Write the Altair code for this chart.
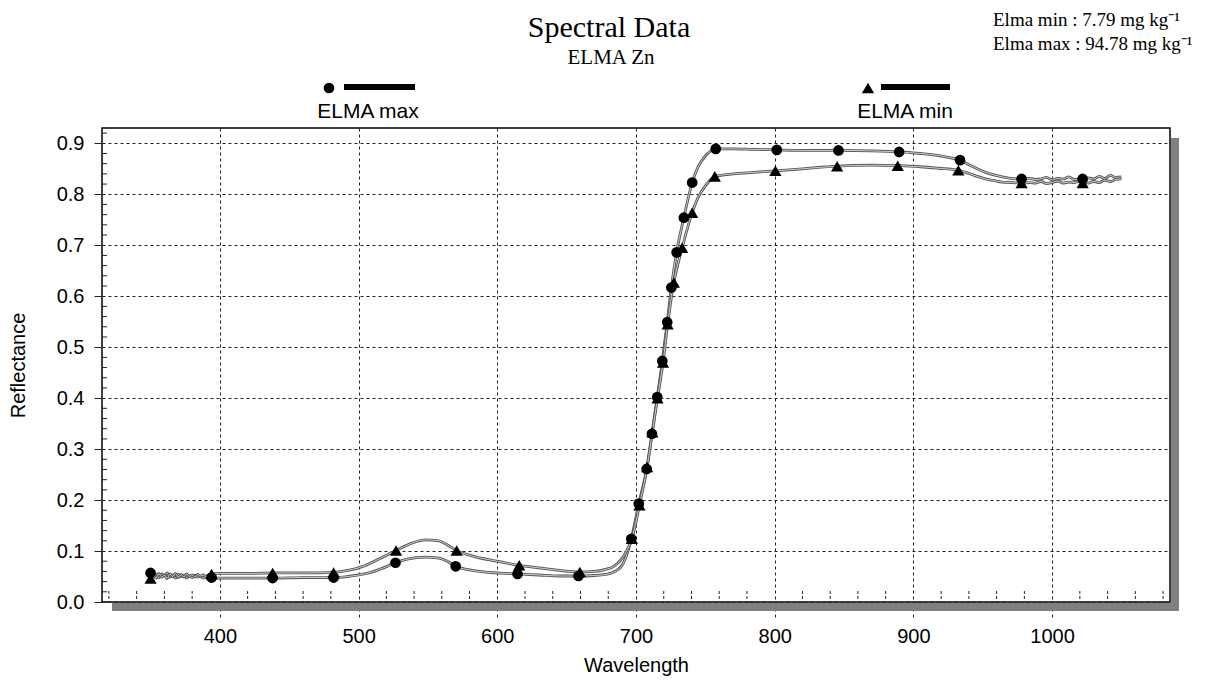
import altair as alt
import pandas as pd

# ---------------- data ----------------
noise_wl = [350, 352, 354, 356, 358, 360, 362, 364, 366, 368, 370, 372, 374, 376, 378,
            380, 382, 384, 386, 388, 390, 392, 394]

# ELMA max (circles)
max_wl = noise_wl + [400, 420, 440, 460, 482, 492, 500, 510, 518, 526.6,
                     535, 548, 558, 564, 570, 580, 590, 600, 614.6, 630,
                     645, 658.5, 670, 680, 686, 690, 693, 696.6, 702, 707.7,
                     711.5, 715.3, 719, 722.5, 725.5, 729.3, 734.5, 740.5, 745, 750,
                     757.5, 770, 785, 801.5, 820, 846, 870, 889.7, 905, 918,
                     926, 933.6, 940, 946, 952, 958, 964, 970, 978, 984,
                     988, 992, 996, 1000, 1004, 1008, 1012, 1016, 1022, 1026,
                     1030, 1034, 1038, 1042, 1046, 1050]
max_refl = [.057, .050, .054, .048, .055, .051, .057, .049, .053, .047, .054, .050,
            .052, .047, .051, .048, .052, .049, .050, .047, .049, .048, .048,
            .047, .047, .047, .048, .048, .050, .053, .059, .067, .077,
            .084, .088, .086, .080, .070, .063, .059, .057, .055, .053,
            .051, .051, .052, .055, .062, .072, .090, .124, .193, .261,
            .330, .402, .473, .549, .617, .686, .754, .823, .855, .875,
            .889, .889, .888, .887, .886, .886, .885, .883, .880, .876,
            .872, .867, .858, .850, .843, .838, .834, .831, .830, .831,
            .829, .830, .833, .828, .831, .830, .834, .829, .830, .832,
            .830, .835, .831, .837, .833, .834]

# ELMA min (triangles)
min_wl = noise_wl + [400, 420, 440, 460, 482, 492, 500, 510, 518, 527,
                     538, 548, 558, 564, 570.7, 585, 600, 615.8, 630, 645,
                     659.5, 670, 678, 684, 689, 693, 697, 702.5, 708, 711.8,
                     715.5, 719.5, 722.8, 727.3, 733.3, 740.5, 745, 750, 756.8, 770,
                     785, 800.5, 820, 845, 870, 888.7, 905, 918, 932.4, 940,
                     946, 952, 958, 964, 970, 978, 984, 988, 992, 996,
                     1000, 1004, 1008, 1012, 1016, 1022, 1026, 1030, 1034, 1038,
                     1042, 1046, 1050]
min_refl = [.046, .052, .047, .056, .049, .053, .046, .055, .050, .056, .048, .054,
            .049, .055, .050, .053, .049, .054, .051, .053, .050, .054, .055,
            .056, .056, .057, .057, .058, .062, .067, .078, .089, .101,
            .115, .122, .120, .112, .101, .088, .080, .072, .067, .062,
            .059, .060, .064, .070, .082, .099, .124, .190, .265, .333,
            .400, .470, .545, .627, .695, .764, .795, .816, .835, .840,
            .843, .846, .850, .855, .857, .856, .854, .851, .847, .841,
            .835, .830, .827, .824, .823, .822, .823, .822, .825, .821,
            .823, .826, .822, .824, .823, .827, .822, .825, .823, .828,
            .825, .829, .830]

max_mark_wl = [350, 394, 438, 482, 526.6, 570, 614.6, 658.5, 696.6, 702, 707.7, 711.5,
               715.3, 719, 722.5, 725.5, 729.3, 734.5, 740.5, 757.5, 801.5, 846, 889.7,
               933.6, 978, 1022]
max_mark_refl = [.057, .048, .047, .048, .077, .070, .055, .051, .124, .193, .261, .330,
                 .402, .473, .549, .617, .686, .754, .823, .889, .887, .886, .883,
                 .867, .830, .830]
min_mark_wl = [350, 394, 438, 482, 527, 570.7, 615.8, 659.5, 697, 702.5, 708, 711.8,
               715.5, 719.5, 722.8, 727.3, 733.3, 740.5, 756.8, 800.5, 845, 888.7,
               932.4, 978, 1022]
min_mark_refl = [.046, .055, .057, .058, .101, .101, .072, .059, .124, .190, .265, .333,
                 .400, .470, .545, .627, .695, .764, .835, .846, .855, .856,
                 .847, .822, .822]

x_major = [400, 500, 600, 700, 800, 900, 1000]
y_major = [0.0, 0.1, 0.2, 0.3, 0.4, 0.5, 0.6, 0.7, 0.8, 0.9]
x_minor = [320, 340, 360, 380, 420, 440, 460, 480, 520, 540, 560, 580, 620, 640, 660, 680,
           720, 740, 760, 780, 820, 840, 860, 880, 920, 940, 960, 980, 1020, 1040, 1060, 1080]
y_minor = [0.02, 0.04, 0.06, 0.08, 0.12, 0.14, 0.16, 0.18, 0.22, 0.24, 0.26, 0.28,
           0.32, 0.34, 0.36, 0.38, 0.42, 0.44, 0.46, 0.48, 0.52, 0.54, 0.56, 0.58,
           0.62, 0.64, 0.66, 0.68, 0.72, 0.74, 0.76, 0.78, 0.82, 0.84, 0.86, 0.88, 0.92]

title_text = "Spectral Data"
subtitle_text = "ELMA Zn"
note_lines = ["Elma min  : 7.79  mg kg\u207b\u00b9", "Elma max : 94.78 mg kg\u207b\u00b9"]
legend_labels = ["ELMA max", "ELMA min"]

# ---------------- chart ----------------
W, H = 1068, 474
SANS = "Liberation Sans"
SERIF = "Liberation Serif"

xs = alt.Scale(domain=[315, 1085], nice=False, zero=False)
ys = alt.Scale(domain=[0, 0.93], nice=False, zero=False)

df_max = pd.DataFrame({"wl": max_wl, "refl": max_refl})
df_min = pd.DataFrame({"wl": min_wl, "refl": min_refl})
dm_max = pd.DataFrame({"wl": max_mark_wl, "refl": max_mark_refl})
dm_min = pd.DataFrame({"wl": min_mark_wl, "refl": min_mark_refl})
one = pd.DataFrame({"k": [0]})

x_axis = alt.Axis(values=x_major, format="d", grid=True, gridColor="#222", gridDash=[3, 3],
                  gridWidth=1, domain=False, tickSize=18, tickColor="#222", tickDash=[3, 3],
                  tickWidth=1, labelFont=SANS, labelFontSize=20, labelColor="black",
                  labelPadding=6, title="Wavelength", titleFont=SANS, titleFontSize=20,
                  titleFontWeight="normal", titleColor="black", titlePadding=9)
y_axis = alt.Axis(values=y_major, format=".1f", grid=True, gridColor="#222", gridDash=[3, 3],
                  gridWidth=1, domain=False, tickSize=8, tickColor="#222", tickWidth=1,
                  labelFont=SANS, labelFontSize=20, labelColor="black", labelPadding=10,
                  title="Reflectance", titleFont=SANS, titleFontSize=20,
                  titleFontWeight="normal", titleColor="black", titlePadding=28)

base_x = alt.X("wl:Q", scale=xs, axis=x_axis)
base_y = alt.Y("refl:Q", scale=ys, axis=y_axis)


def curve(df):
    outer = alt.Chart(df).mark_line(color="#555", strokeWidth=2.8, interpolate="monotone").encode(
        x=alt.X("wl:Q", scale=xs), y=alt.Y("refl:Q", scale=ys))
    inner = alt.Chart(df).mark_line(color="#eeeeee", strokeWidth=0.8, interpolate="monotone").encode(
        x=alt.X("wl:Q", scale=xs), y=alt.Y("refl:Q", scale=ys))
    return outer + inner


axes_layer = alt.Chart(df_max).mark_line(opacity=0).encode(x=base_x, y=base_y)

shadow_r = alt.Chart(one).mark_rect(color="#808080").encode(
    x=alt.value(W + 1), x2=alt.value(W + 9), y=alt.value(10), y2=alt.value(H + 9))
shadow_b = alt.Chart(one).mark_rect(color="#808080").encode(
    x=alt.value(10), x2=alt.value(W + 9), y=alt.value(H + 1), y2=alt.value(H + 9))

xminor = alt.Chart(pd.DataFrame({"wl": x_minor})).mark_rule(
    color="#222", strokeDash=[3, 2], strokeWidth=1).encode(
    x=alt.X("wl:Q", scale=xs), y=alt.value(H - 11), y2=alt.value(H))
yminor = alt.Chart(pd.DataFrame({"refl": y_minor})).mark_rule(
    color="#222", strokeWidth=1).encode(
    y=alt.Y("refl:Q", scale=ys), x=alt.value(0), x2=alt.value(5))

pts_max = alt.Chart(dm_max).mark_point(shape="circle", filled=True, size=115, color="black",
                                       opacity=1).encode(
    x=alt.X("wl:Q", scale=xs), y=alt.Y("refl:Q", scale=ys))
pts_min = alt.Chart(dm_min).mark_point(shape="triangle-up", filled=True, size=150,
                                       color="black", opacity=1).encode(
    x=alt.X("wl:Q", scale=xs), y=alt.Y("refl:Q", scale=ys))


def txt(s, x, y, font, size, align="center"):
    return alt.Chart(one).mark_text(text=s, font=font, fontSize=size, align=align,
                                    baseline="alphabetic", color="black").encode(
        x=alt.value(x), y=alt.value(y))


title_l = txt(title_text, 507, -91, SERIF, 30)
sub_l = txt(subtitle_text, 509, -64, SERIF, 21)
note1 = txt(note_lines[0], 891, -102, SERIF, 19, "left")
note2 = txt(note_lines[1], 891, -78, SERIF, 19, "left")

leg_c = alt.Chart(one).mark_point(shape="circle", filled=True, size=115, color="black",
                                  opacity=1).encode(x=alt.value(227), y=alt.value(-40))
leg_cb = alt.Chart(one).mark_rule(strokeWidth=6, color="black").encode(
    x=alt.value(242), x2=alt.value(313), y=alt.value(-41))
leg_ct = txt(legend_labels[0], 266, -10, SANS, 21)
leg_t = alt.Chart(one).mark_point(shape="triangle-up", filled=True, size=150, color="black",
                                  opacity=1).encode(x=alt.value(766), y=alt.value(-40))
leg_tb = alt.Chart(one).mark_rule(strokeWidth=6, color="black").encode(
    x=alt.value(779), x2=alt.value(848), y=alt.value(-41))
leg_tt = txt(legend_labels[1], 803, -10, SANS, 21)

chart = alt.layer(
    axes_layer, shadow_r, shadow_b, xminor, yminor,
    curve(df_max), curve(df_min), pts_max, pts_min,
    title_l, sub_l, note1, note2,
    leg_c, leg_cb, leg_ct, leg_t, leg_tb, leg_tt,
).properties(
    width=W, height=H,
    autosize=alt.AutoSizeParams(type="none"),
    padding={"left": 94, "top": 120, "right": 36, "bottom": 76},
    background="white",
).configure_view(stroke="black", strokeWidth=1.5, fill="white")

chart.save("out.html", embed_options={"renderer": "svg", "actions": False})
